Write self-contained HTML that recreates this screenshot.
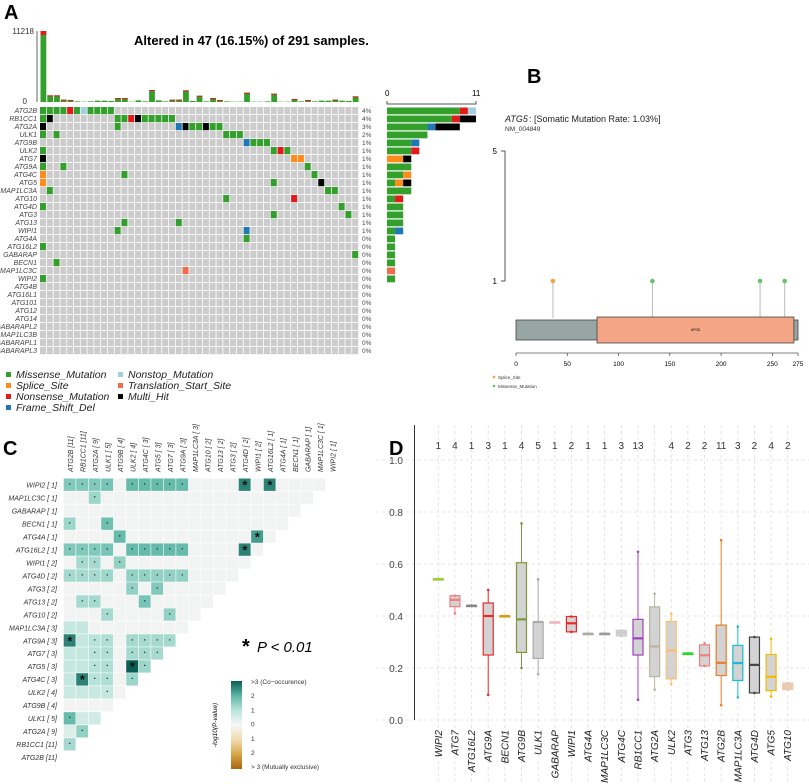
<!DOCTYPE html>
<html><head><meta charset="utf-8"><style>
html,body{margin:0;padding:0;background:#fff;}
svg{display:block;font-family:"Liberation Sans",sans-serif;}
</style></head><body>
<svg id="fig" width="809" height="784" viewBox="0 0 809 784" xmlns="http://www.w3.org/2000/svg">
<text x="4" y="19" font-size="20" font-weight="bold">A</text>
<text x="527" y="83" font-size="20" font-weight="bold">B</text>
<text x="3" y="455" font-size="20" font-weight="bold">C</text>
<text x="389" y="455" font-size="20" font-weight="bold">D</text>
<text x="134" y="45" font-size="13" font-weight="bold">Altered in 47 (16.15%) of 291 samples.</text>
</svg>
<script>
const NS="http://www.w3.org/2000/svg";
const svg=document.getElementById('fig');
function mk(tag,attrs){const e=document.createElementNS(NS,tag);for(const k in attrs)e.setAttribute(k,attrs[k]);svg.appendChild(e);return e;}
function tx(x,y,s,attrs){const e=mk('text',Object.assign({x:x,y:y},attrs||{}));e.textContent=s;return e;}

/* ---------- Panel A data ---------- */
const genesA=["ATG2B","RB1CC1","ATG2A","ULK1","ATG9B","ULK2","ATG7","ATG9A","ATG4C","ATG5","MAP1LC3A","ATG10","ATG4D","ATG3","ATG13","WIPI1","ATG4A","ATG16L2","GABARAP","BECN1","MAP1LC3C","WIPI2","ATG4B","ATG16L1","ATG101","ATG12","ATG14","GABARAPL2","MAP1LC3B","GABARAPL1","GABARAPL3"];
const mutsA=["0M 1M 2M 3M 4N 5M 6O 7M 8M 9M 10M","0M 1H 11M 12M 13N 14H 15M 16M 17M 18M 19M","0H 11M 20F 21H 22M 23M 24H 25M 26M","0M 2M 27M 28M 29M","30F 31M 32M 33M","0M 34M 35N 36M","0H 37S 38S","0M 3M 39M","0S 12M 40M","0S 34M 41H","1M 42M 43M","27M 37N","0M 44M","34M 45M","12M 20M","11M 30F","30M","0M","46M","2M","21T","0M","","","","","","","","",""];
const tmbA=[11218,1050,1050,370,320,100,50,100,210,210,160,630,630,50,260,100,1890,260,100,370,370,1840,160,990,100,630,320,100,50,50,1470,50,50,100,1310,50,50,470,100,320,100,210,210,370,210,160,890];
const nSamples=291, nCols=47, maxRight=11;
const typeOrder=["M","S","N","F","O","T","H"];
const typeColor={M:"#33a02c",S:"#ff8c1a",N:"#e31a1c",F:"#1f78b4",O:"#a6cee3",T:"#f26b4a",H:"#000000"};

const gx0=40, gx1=359, cw=(gx1-gx0)/nCols, gy0=107, rh=8;
const ty0=102, ty1=31;
function yTop(v){return ty0-(v/tmbA[0])*(ty0-ty1);}
let e=mk('line',{x1:37,y1:ty1,x2:37,y2:ty0,stroke:"#666","stroke-width":1});


e=tx(34,34,"11218",{"font-size":8,"text-anchor":"end",fill:"#333"});


e=tx(27,104,"0",{"font-size":8,"text-anchor":"end",fill:"#333"});


tmbA.forEach((v,i)=>{
  const x=gx0+i*cw+0.5, top=yTop(v);
  const b=mk('rect',{x:x,y:top,width:cw-1,height:ty0-top,fill:"#33a02c"});
  
  
  if(v>300){const c=mk('rect',{x:x,y:top,width:cw-1,height:i==0?4:1,fill:"#e31a1c"});
  
  }
});
genesA.forEach((g,r)=>{
  const y=gy0+r*rh;
  const lab=tx(37,y+6,g,{"font-size":7,"font-style":"italic","text-anchor":"end",fill:"#444"});
  
  
  for(let c=0;c<nCols;c++){
    const cell=mk('rect',{x:gx0+c*cw,y:y,width:cw-0.8,height:rh-0.8,fill:"#cccccc"});
    
    
  }
  const counts={};
  mutsA[r].split(" ").filter(s=>s).forEach(s=>{
    const col=parseInt(s), t=s.slice(-1);
    counts[t]=(counts[t]||0)+1;
    const m=mk('rect',{x:gx0+col*cw,y:y,width:cw-0.8,height:rh-0.8,fill:typeColor[t]});
    
    
  });
  let tot=0;for(const k in counts)tot+=counts[k];
  const p=tx(362,y+6,Math.round(tot/nSamples*100)+"%",{"font-size":6.5,fill:"#444"});
  
  
  let acc=0;const sc=(476-387)/maxRight;
  typeOrder.forEach(t=>{if(counts[t]){
    const rb=mk('rect',{x:387+acc*sc,y:y+0.5,width:counts[t]*sc,height:rh-1.2,fill:typeColor[t]});
    
    
    acc+=counts[t];}});
});
e=mk('path',{d:"M387 101 V104 H476 V101",fill:"none",stroke:"#555","stroke-width":1});


e=tx(385,96,"0",{"font-size":8});


e=tx(472,96,"11",{"font-size":8});


const legA=[["Missense_Mutation","M",6,378],["Splice_Site","S",6,389],["Nonsense_Mutation","N",6,400],["Frame_Shift_Del","F",6,411],["Nonstop_Mutation","O",118,378],["Translation_Start_Site","T",118,389],["Multi_Hit","H",118,400]];
legA.forEach(l=>{
  const r=mk('rect',{x:l[2],y:l[3]-6,width:5,height:5,fill:typeColor[l[1]]});
  
  
  const t=tx(l[2]+10,l[3],l[0],{"font-size":10.5,"font-style":"italic",fill:"#222"});
  
  
});

/* ---------- Panel B data ---------- */
const protLen=275;
const lolliPos=[36,133,238,262];
const lolliType=["S","M","M","M"];
const lolliCount=[1,1,1,1];
const domainStart=79, domainEnd=271;
const xTicksB=[0,50,100,150,200,250,275];
function xB(a){return 516+a*(798-516)/protLen;}
function yB(c){return 281-(c-1)*(281-151)/4;}
e=tx(505,122,"ATG5",{"font-size":9,"font-style":"italic",fill:"#222"});


e=tx(529,122," : [Somatic Mutation Rate: 1.03%]",{"font-size":9,fill:"#222"});


e=tx(505,131,"NM_004849",{"font-size":6.5,fill:"#333"});


e=mk('path',{d:"M501 151 H505 V281 H501",fill:"none",stroke:"#555","stroke-width":1});


e=tx(497,154,"5",{"font-size":8,"text-anchor":"end"});


e=tx(497,284,"1",{"font-size":8,"text-anchor":"end"});


lolliPos.forEach((p,i)=>{
  const l=mk('line',{x1:xB(p),y1:yB(lolliCount[i]),x2:xB(p),y2:318,stroke:"#bbb","stroke-width":1});
  
  
});
e=mk('rect',{x:xB(0),y:320,width:xB(protLen)-xB(0),height:20,fill:"#97a6a4",stroke:"#444","stroke-width":0.8});


e=mk('rect',{x:xB(domainStart),y:317,width:xB(domainEnd)-xB(domainStart),height:26,fill:"#f3a585",stroke:"#444","stroke-width":0.8});


e=tx((xB(domainStart)+xB(domainEnd))/2,331,"APG5",{"font-size":3.5,"text-anchor":"middle"});


lolliPos.forEach((p,i)=>{
  const c=mk('circle',{cx:xB(p),cy:yB(lolliCount[i]),r:2.3,fill:lolliType[i]=="S"?"#f7a13c":"#66c266"});
  
  
});
e=mk('line',{x1:xB(0),y1:353,x2:xB(protLen),y2:353,stroke:"#555","stroke-width":0.8});


xTicksB.forEach(t=>{
  const l=mk('line',{x1:xB(t),y1:353,x2:xB(t),y2:356,stroke:"#555","stroke-width":0.8});
  
  
  const s=tx(xB(t),366,String(t),{"font-size":6.5,"text-anchor":"middle"});
  
  
});
[["Splice_Site","#f7a13c",379],["Missense_Mutation","#66c266",388]].forEach(l=>{
  const c=mk('circle',{cx:494,cy:l[2]-2,r:1.3,fill:l[1]});
  
  
  const t=tx(498,l[2],l[0],{"font-size":4.5,fill:"#333"});
  
  
});

/* ---------- Panel C data ---------- */
const rowsC=["WIPI2 [ 1]","MAP1LC3C [ 1]","GABARAP [ 1]","BECN1 [ 1]","ATG4A [ 1]","ATG16L2 [ 1]","WIPI1 [ 2]","ATG4D [ 2]","ATG3 [ 2]","ATG13 [ 2]","ATG10 [ 2]","MAP1LC3A [ 3]","ATG9A [ 3]","ATG7 [ 3]","ATG5 [ 3]","ATG4C [ 3]","ULK2 [ 4]","ATG9B [ 4]","ULK1 [ 5]","ATG2A [ 9]","RB1CC1 [11]","ATG2B [11]"];
const colsC=["ATG2B [11]","RB1CC1 [11]","ATG2A [ 9]","ULK1 [ 5]","ATG9B [ 4]","ULK2 [ 4]","ATG4C [ 3]","ATG5 [ 3]","ATG7 [ 3]","ATG9A [ 3]","MAP1LC3A [ 3]","ATG10 [ 2]","ATG13 [ 2]","ATG3 [ 2]","ATG4D [ 2]","WIPI1 [ 2]","ATG16L2 [ 1]","ATG4A [ 1]","BECN1 [ 1]","GABARAP [ 1]","MAP1LC3C [ 1]","WIPI2 [ 1]"];
const sigC=[
"0:1.6:. 1:1.6:. 2:1.6:. 3:1.7:. 5:1.9:. 6:1.9:. 7:1.9:. 8:1.9:. 9:1.9:. 14:2.6:* 16:2.6:*",
"2:1.3:.","","0:1.3:. 3:1.8:.","4:1.9:. 15:2.3:*",
"0:1.6:. 1:1.6:. 2:1.6:. 3:1.7:. 5:1.9:. 6:1.9:. 7:1.9:. 8:1.9:. 9:1.9:. 14:2.6:*",
"1:1.2:. 2:1.2:. 4:1.4:.","0:1.2:. 1:1.2:. 2:1.2:. 3:1.3:. 5:1.4:. 6:1.4:. 7:1.4:. 8:1.4:. 9:1.4:.",
"5:1.4:. 7:1.6:.","1:1.2:. 2:1.2:. 6:1.7:.","3:1.2:. 8:1.4:.",
"0:0.8: 1:0.8:","0:2.6:* 1:0.8: 2:1.0:. 3:1.1:. 5:1.2:. 6:1.2:. 7:1.2:. 8:1.2:.",
"0:0.8: 1:0.8: 2:1.0:. 3:1.1:. 5:1.2:. 6:1.2:. 7:1.2:.","0:0.8: 1:0.8: 2:1.0:. 3:1.1:. 5:3.2:* 6:1.3:.",
"0:0.8: 1:2.6:* 2:1.0:. 3:1.1:. 5:1.3:.","0:0.7: 1:0.7: 2:0.7: 3:0.8:.","",
"0:1.9:. 1:0.6: 2:0.6:","0:0.4: 1:1.4:.","0:1.2:.",""];
const cx0=63.7, cwC=12.5, cy0=478.5, chC=12.98;
function colC(v){
  const st=[[0,[245,245,245]],[1,[184,227,218]],[2,[93,183,166]],[3,[11,94,84]]];
  v=Math.max(0,Math.min(3,v));
  for(let i=0;i<3;i++){if(v<=st[i+1][0]){const f=(v-st[i][0]);const a=st[i][1],b=st[i+1][1];
  return "rgb("+a.map((x,j)=>Math.round(x+(b[j]-x)*f)).join(",")+")";}}
  return "rgb(11,94,84)";
}
colsC.forEach((c,j)=>{
  const x=cx0+j*cwC+cwC/2+3;
  const t=tx(x,472,c,{"font-size":7,"font-style":"italic",fill:"#333",transform:"rotate(-90 "+x+" 472)"});
  
  
});
rowsC.forEach((r,i)=>{
  const y=cy0+i*chC;
  const t=tx(57,y+9,r,{"font-size":7,"font-style":"italic","text-anchor":"end",fill:"#333"});
  
  
  const vals={};
  sigC[i].split(" ").filter(s=>s).forEach(s=>{const p=s.split(":");vals[+p[0]]=[+p[1],p[2]];});
  for(let j=0;j<=20-i;j++){
    const v=vals[j]?vals[j][0]:0.05;
    const cell=mk('rect',{x:cx0+j*cwC,y:y,width:cwC-0.6,height:chC-0.6,fill:colC(v)});
    
    
    if(vals[j]&&vals[j][1]){
      const star=vals[j][1]=="*";
      const m=tx(cx0+j*cwC+cwC/2,y+(star?11:8),star?"*":"·",{"font-size":star?13:8,"text-anchor":"middle",fill:"#111","font-weight":"bold"});
      
      
    }
  }
});
e=tx(242,653,"*",{"font-size":20,"font-weight":"bold"});


e=tx(257,652,"P < 0.01",{"font-size":15,"font-style":"italic"});


const cbTicks=[">3 (Co−occurence)","2","1","0","1","2","> 3 (Mutually exclusive)"];
const defs=mk('defs',{});
defs.innerHTML='<linearGradient id="cb" x1="0" y1="0" x2="0" y2="1"><stop offset="0" stop-color="#0b5e54"/><stop offset="0.17" stop-color="#5db7a6"/><stop offset="0.33" stop-color="#b8e3da"/><stop offset="0.5" stop-color="#f7f7f7"/><stop offset="0.67" stop-color="#f0dcae"/><stop offset="0.83" stop-color="#d9a64a"/><stop offset="1" stop-color="#a8640f"/></linearGradient>';
e=mk('rect',{x:231,y:681,width:11,height:88,fill:"url(#cb)"});


cbTicks.forEach((t,i)=>{
  const s=tx(251,684+i*14.2,t,{"font-size":6.5,fill:"#333"});
  
  
});
e=tx(217,725,"-log10(P-value)",{"font-size":6.5,"font-style":"italic","text-anchor":"middle",transform:"rotate(-90 217 725)"});



/* ---------- Panel D data ---------- */
const catsD=["WIPI2","ATG7","ATG16L2","ATG9A","BECN1","ATG9B","ULK1","GABARAP","WIPI1","ATG4A","MAP1LC3C","ATG4C","RB1CC1","ATG2A","ULK2","ATG3","ATG13","ATG2B","MAP1LC3A","ATG4D","ATG5","ATG10"];
const countsD=["1","4","1","3","1","4","5","1","2","1","1","3","13","","4","2","2","11","3","2","4","2"];
const medD=[0.542,0.462,0.44,0.40,0.40,0.387,0.377,0.376,0.372,0.332,0.332,0.335,0.314,0.283,0.267,0.256,0.249,0.220,0.219,0.212,0.166,0.13];
const q1D=[0.542,0.436,0.44,0.25,0.40,0.26,0.237,0.376,0.339,0.332,0.332,0.323,0.25,0.167,0.158,0.256,0.208,0.171,0.152,0.104,0.113,0.117];
const q3D=[0.542,0.478,0.44,0.45,0.40,0.605,0.377,0.376,0.398,0.332,0.332,0.345,0.387,0.435,0.379,0.256,0.289,0.365,0.287,0.319,0.252,0.142];
const loD=[0.542,0.41,0.44,0.097,0.40,0.20,0.176,0.376,0.339,0.332,0.332,0.323,0.078,0.117,0.138,0.256,0.208,0.057,0.087,0.104,0.09,0.117];
const hiD=[0.542,0.478,0.44,0.50,0.40,0.756,0.541,0.376,0.398,0.332,0.332,0.345,0.647,0.486,0.409,0.256,0.295,0.692,0.359,0.319,0.312,0.142];
const colD=["#9acd32","#f07f7f","#888888","#e8282b","#d4a017","#7a9a3a","#aaaaaa","#f4b6c2","#e8282b","#aaaaaa","#999999","#cccccc","#a040c0","#bbb4a0","#fdbf6f","#22dd22","#f07f7f","#e67e22","#17becf","#444444","#f5b800","#f5c6a0"];
const yTicksD=[0,0.2,0.4,0.6,0.8,1.0];
function xD(i){return 438.3+i*16.64;}
function yD(v){return 720-260*v;}
catsD.forEach((c,i)=>{
  const l=mk('line',{x1:xD(i),y1:425,x2:xD(i),y2:784,stroke:"#ddd","stroke-dasharray":"3,3","stroke-width":0.8});
  
  
});
yTicksD.forEach(t=>{
  const l=mk('line',{x1:376,y1:yD(t),x2:809,y2:yD(t),stroke:"#ddd","stroke-dasharray":"3,3","stroke-width":0.8});
  
  
  const s=tx(403,yD(t)+4,t.toFixed(1),{"font-size":10,"text-anchor":"end",fill:"#444"});
  
  
});
e=mk('line',{x1:414.5,y1:425,x2:414.5,y2:720,stroke:"#333","stroke-width":1});


catsD.forEach((c,i)=>{
  const x=xD(i), col=colD[i];
  const n=tx(x,449,countsD[i],{"font-size":10,"text-anchor":"middle",fill:"#333"});
  
  
  const w=mk('line',{x1:x,y1:yD(hiD[i]),x2:x,y2:yD(loD[i]),stroke:col,"stroke-width":1});
  
  
  const b=mk('rect',{x:x-5,y:yD(q3D[i]),width:10,height:Math.max(1,yD(q1D[i])-yD(q3D[i])),fill:"#d3d3d3",stroke:col,"stroke-width":1.2});
  
  
  const m=mk('line',{x1:x-5,y1:yD(medD[i]),x2:x+5,y2:yD(medD[i]),stroke:col,"stroke-width":2.2});
  
  
  [hiD[i],loD[i]].forEach(v=>{
    const p=mk('circle',{cx:x,cy:yD(v),r:1.3,fill:col});
    
    
  });
  const t=tx(x+3.5,730,c,{"font-size":10,"font-style":"italic","text-anchor":"end",fill:"#222",transform:"rotate(-90 "+(x+3.5)+" 730)"});
  
  
});
</script>
</body></html>
